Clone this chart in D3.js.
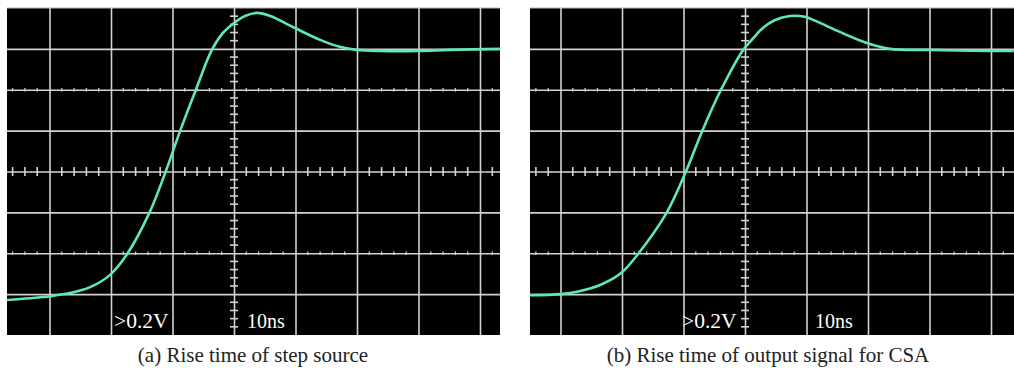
<!DOCTYPE html>
<html>
<head>
<meta charset="utf-8">
<script src="https://cdn.jsdelivr.net/npm/d3@7"></script>
<style>
  body { margin: 0; background: #fff; }
  svg { display: block; }
</style>
</head>
<body>
<script>
// scope settings
var voltLabel = "\u003E0.2V";
var timeLabel = "10ns";
var captions = ["(a) Rise time of step source", "(b) Rise time of output signal for CSA"];

// trace (a): time in ns, voltage in V (10ns/div, 0.2V/div)
var timeA = [-36.9, -33.2, -29.9, -26.7, -23.4, -20.2, -17.4, -13.8, -11.1, -8.8, -6.2, -3.6, -1.8, 0, 1.8, 3.7, 5.9, 9.9, 14.0, 17.2, 20.0, 23.7, 29.9, 35.1, 43.3];
var voltA = [-0.629, -0.620, -0.610, -0.595, -0.566, -0.507, -0.405, -0.205, 0, 0.195, 0.400, 0.595, 0.678, 0.727, 0.761, 0.776, 0.761, 0.702, 0.644, 0.610, 0.595, 0.590, 0.590, 0.595, 0.600];

// trace (b)
var timeB = [-35.0, -29.9, -27.3, -25.2, -23.1, -21.5, -20.0, -17.6, -12.8, -9.6, -7.0, -3.9, -0.3, 1.1, 2.9, 4.9, 7.3, 8.9, 9.9, 12.2, 15.4, 19.8, 23.6, 29.9, 40.0, 43.7];
var voltB = [-0.605, -0.600, -0.588, -0.573, -0.549, -0.524, -0.493, -0.412, -0.205, 0, 0.195, 0.400, 0.595, 0.644, 0.702, 0.741, 0.761, 0.761, 0.756, 0.727, 0.683, 0.629, 0.600, 0.595, 0.590, 0.590];

var width = 1014, height = 368;
var pxPerDivX = 61.5;
var plotTop = 8, plotBottom = 335;
var serif = "'Liberation Serif', 'Times New Roman', Times, serif";

var panels = [
    {left: 7, right: 500, center: 234, t: timeA, v: voltA, caption: captions[0], capX: 253, voltX: 114, timeX: 247},
    {left: 530, right: 1014, center: 745, t: timeB, v: voltB, caption: captions[1], capX: 768, voltX: 682, timeX: 815}
];

var svg = d3.select("body").append("svg")
    .attr("width", width)
    .attr("height", height);

var gridColor = "#d2d2d2";

panels.forEach(function (p) {
    var xScale = d3.scaleLinear()
        .domain([(p.left - p.center) / pxPerDivX * 10, (p.right - p.center) / pxPerDivX * 10])
        .range([p.left, p.right]);

    var yScale = d3.scaleLinear()
        .domain([-0.8, 0.8])
        .range([plotBottom, plotTop]);

    var g = svg.append("g");

    g.append("rect")
        .attr("x", p.left).attr("y", plotTop)
        .attr("width", p.right - p.left).attr("height", plotBottom - plotTop)
        .attr("fill", "#000");

    // faint frame on top
    g.append("line")
        .attr("x1", p.left).attr("x2", p.right)
        .attr("y1", plotTop).attr("y2", plotTop)
        .attr("stroke", "#bbb").attr("stroke-width", 1.2);

    var xMajor = d3.range(-30, 50, 10).filter(function (d) { return xScale(d) > p.left + 2 && xScale(d) < p.right - 2; });
    var yMajor = d3.range(-0.6, 0.61, 0.2);

    // vertical grid
    var xGrid = d3.axisBottom(xScale)
        .tickValues(xMajor)
        .tickSize(-(plotBottom - plotTop))
        .tickFormat("");
    g.append("g")
        .attr("transform", "translate(0," + plotBottom + ")")
        .call(xGrid)
        .call(function (s) {
            s.select(".domain").remove();
            s.selectAll("line").attr("stroke", gridColor).attr("stroke-width", 1.6);
        });

    // horizontal grid
    var yGrid = d3.axisLeft(yScale)
        .tickValues(yMajor)
        .tickSize(-(p.right - p.left))
        .tickFormat("");
    g.append("g")
        .attr("transform", "translate(" + p.left + ",0)")
        .call(yGrid)
        .call(function (s) {
            s.select(".domain").remove();
            s.selectAll("line").attr("stroke", gridColor).attr("stroke-width", 1.6);
        });

    // minor ticks along the centre lines and the +-0.4V lines
    var xMinor = d3.range(-40, 50, 2).filter(function (d) { return d % 10 !== 0 && xScale(d) > p.left && xScale(d) < p.right; });
    var yMinor = d3.range(-0.76, 0.8, 0.04).filter(function (d) { return Math.abs(Math.round(d * 100) % 20) !== 0; });

    [[0, 4.5, 1.6], [0.4, 1.8, 1.3], [-0.4, 1.8, 1.3]].forEach(function (row) {
        g.append("g").selectAll("line")
            .data(xMinor)
            .enter()
            .append("line")
            .attr("x1", function (d) { return xScale(d); })
            .attr("x2", function (d) { return xScale(d); })
            .attr("y1", yScale(row[0]) - row[1])
            .attr("y2", yScale(row[0]) + row[1])
            .attr("stroke", gridColor)
            .attr("stroke-width", row[2]);
    });

    g.append("g").selectAll("line")
        .data(yMinor)
        .enter()
        .append("line")
        .attr("x1", xScale(0) - 4)
        .attr("x2", xScale(0) + 4)
        .attr("y1", function (d) { return yScale(d); })
        .attr("y2", function (d) { return yScale(d); })
        .attr("stroke", gridColor)
        .attr("stroke-width", 1.6);

    // trace
    var line = d3.line()
        .x(function (d) { return xScale(d[0]); })
        .y(function (d) { return yScale(d[1]); })
        .curve(d3.curveCatmullRom.alpha(0.5));

    g.append("path")
        .datum(d3.zip(p.t, p.v))
        .attr("d", line)
        .attr("fill", "none")
        .attr("stroke", "#5fe8b5")
        .attr("stroke-width", 2.6);

    // scale readouts
    g.append("text")
        .attr("x", p.voltX).attr("y", 328)
        .attr("fill", "#fff")
        .style("font-family", serif)
        .style("font-size", "21.5px")
        .text(voltLabel);

    g.append("text")
        .attr("x", p.timeX).attr("y", 328)
        .attr("fill", "#fff")
        .style("font-family", serif)
        .style("font-size", "20px")
        .text(timeLabel);

    // caption
    svg.append("text")
        .attr("x", p.capX).attr("y", 362)
        .attr("text-anchor", "middle")
        .attr("fill", "#222")
        .style("font-family", serif)
        .style("font-size", "21px")
        .text(p.caption);
});
</script>
</body>
</html>
